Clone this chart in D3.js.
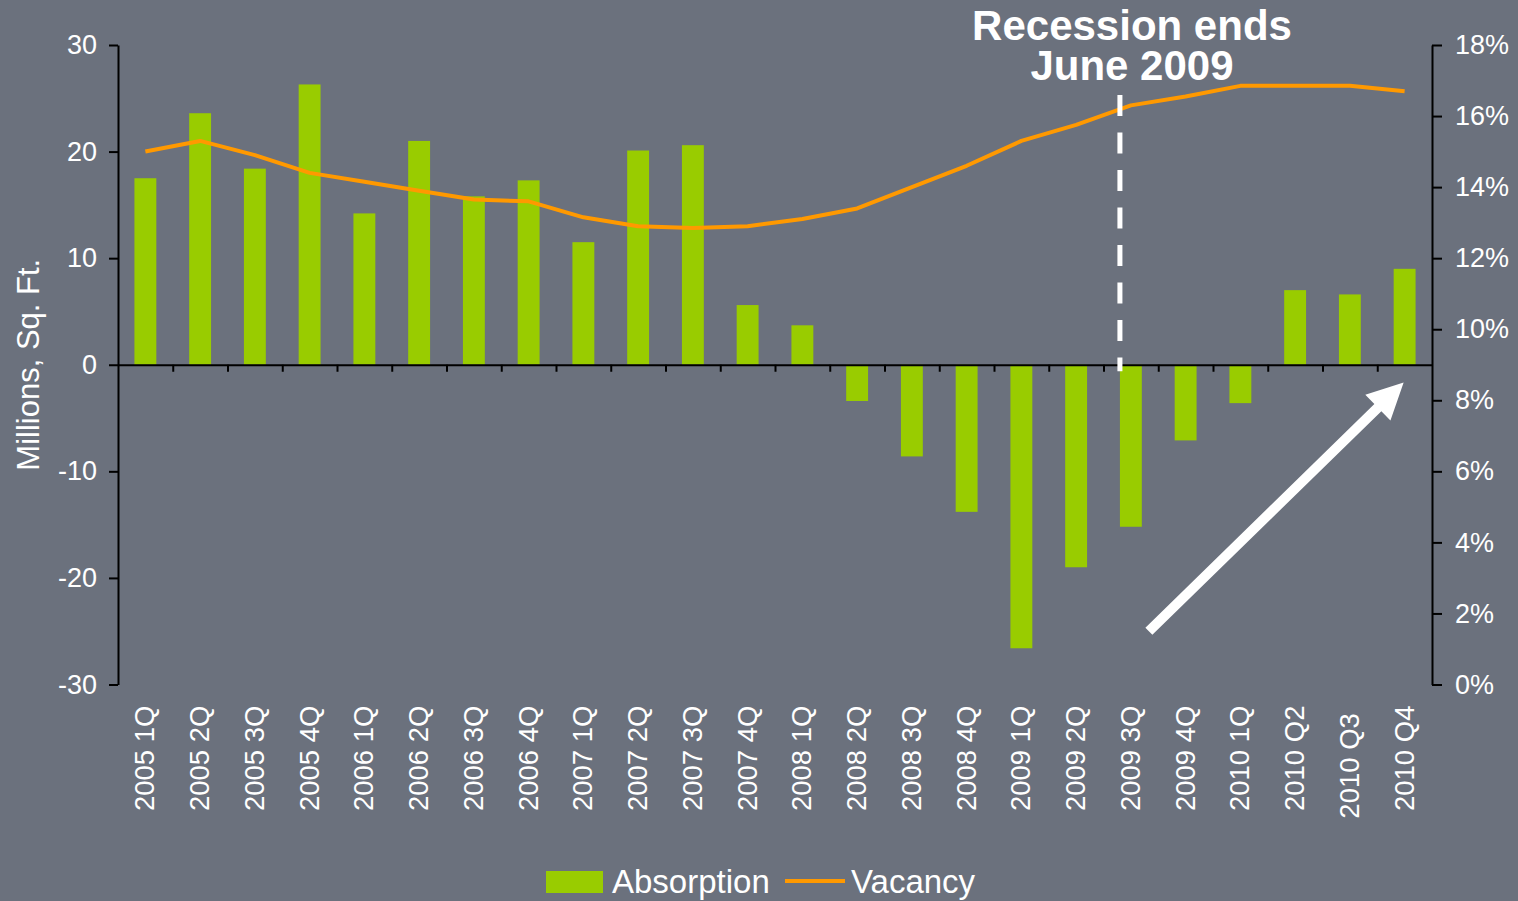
<!DOCTYPE html>
<html>
<head>
<meta charset="utf-8">
<script src="https://cdn.jsdelivr.net/npm/d3@7"></script>
<style>
  html, body { margin: 0; padding: 0; background: #6b717d; }
  svg { display: block; font-family: Arial, "Liberation Sans", sans-serif; }
  .axis path, .axis line { stroke: #000; stroke-width: 2; }
  .axis text { fill: #fff; font-size: 27px; }
</style>
</head>
<body>
<svg width="1518" height="901"></svg>
<script>
var svg = d3.select('svg'),
    width = +svg.attr('width'),
    height = +svg.attr('height');

var quarters = ['2005 1Q', '2005 2Q', '2005 3Q', '2005 4Q',
                '2006 1Q', '2006 2Q', '2006 3Q', '2006 4Q',
                '2007 1Q', '2007 2Q', '2007 3Q', '2007 4Q',
                '2008 1Q', '2008 2Q', '2008 3Q', '2008 4Q',
                '2009 1Q', '2009 2Q', '2009 3Q', '2009 4Q',
                '2010 1Q', '2010 Q2', '2010 Q3 ', '2010 Q4'];

// millions of sq. ft.
var absorption = [17.5, 23.6, 18.4, 26.3, 14.2, 21.0, 15.8, 17.3,
                  11.5, 20.1, 20.6, 5.6, 3.7, -3.4, -8.6, -13.8,
                  -26.6, -19.0, -15.2, -7.1, -3.6, 7.0, 6.6, 9.0];

// percent
var vacancy = [15.0, 15.3, 14.9, 14.4, 14.15, 13.9, 13.65, 13.6,
               13.15, 12.9, 12.85, 12.9, 13.1, 13.4, 14.0, 14.6,
               15.3, 15.75, 16.3, 16.55, 16.85, 16.85, 16.85, 16.7];

var leftTicks = [-30, -20, -10, 0, 10, 20, 30];
var rightTicks = [0, 2, 4, 6, 8, 10, 12, 14, 16, 18];

var plotL = 118, plotR = 1432, plotT = 45, plotB = 684.5;

var x = d3.scaleBand()
    .domain(quarters)
    .range([plotL, plotR])
    .paddingInner(0.6)
    .paddingOuter(0.3);

var step = x.step();

var yL = d3.scaleLinear().domain([-30, 30]).range([plotB, plotT]);
var yR = d3.scaleLinear().domain([0, 18]).range([plotB, plotT]);

// bars
svg.append('g')
    .selectAll('rect')
    .data(absorption)
    .enter().append('rect')
        .attr('x', (d, i) => x(quarters[i]))
        .attr('width', x.bandwidth())
        .attr('y', (d) => yL(Math.max(0, d)))
        .attr('height', (d) => Math.abs(yL(d) - yL(0)))
        .attr('fill', '#99cc00');

// vacancy line
var line = d3.line()
    .x((d, i) => x(quarters[i]) + x.bandwidth() / 2)
    .y((d) => yR(d));

svg.append('path')
    .datum(vacancy)
    .attr('d', line)
    .attr('fill', 'none')
    .attr('stroke', '#ff9900')
    .attr('stroke-width', 4)
    .attr('stroke-linejoin', 'round');

// left axis (plain hyphen for negatives, like the original)
svg.append('g')
    .attr('class', 'axis')
    .attr('transform', 'translate(' + plotL + ',0)')
    .call(d3.axisLeft(yL).tickValues(leftTicks).tickFormat((d) => String(d))
        .tickSize(9).tickPadding(12).tickSizeOuter(0));

// right axis
svg.append('g')
    .attr('class', 'axis')
    .attr('transform', 'translate(' + plotR + ',0)')
    .call(d3.axisRight(yR).tickValues(rightTicks).tickFormat((d) => d + '%')
        .tickSize(10).tickPadding(13).tickSizeOuter(0));

// zero line with ticks on category boundaries
var xb = d3.scaleLinear().domain([0, quarters.length]).range([plotL, plotR]);
svg.append('g')
    .attr('class', 'axis')
    .attr('transform', 'translate(0,' + yL(0) + ')')
    .call(d3.axisBottom(xb).tickValues(d3.range(1, quarters.length)).tickSize(7)
        .tickSizeOuter(0).tickFormat(''));

// category labels
svg.append('g')
    .selectAll('text')
    .data(quarters)
    .enter().append('text')
        .attr('transform', (d) => 'translate(' + (x(d) + x.bandwidth() / 2 + 9) + ',' + (plotB + 21) + ') rotate(-90)')
        .attr('text-anchor', 'end')
        .style('white-space', 'pre')
        .attr('fill', '#fff')
        .attr('font-size', 27.5)
        .text((d) => d);

// y title
svg.append('text')
    .attr('transform', 'translate(39,' + yL(0) + ') rotate(-90)')
    .attr('text-anchor', 'middle')
    .attr('fill', '#fff')
    .attr('font-size', 31)
    .text('Millions, Sq. Ft.');

// recession marker
var recX = x('2009 3Q') - (step - x.bandwidth()) / 2 + step * 0.3;
svg.append('line')
    .attr('x1', recX).attr('x2', recX)
    .attr('y1', yL(25.3)).attr('y2', yL(-0.6))
    .attr('stroke', '#fff')
    .attr('stroke-width', 5)
    .attr('stroke-dasharray', '21,16.5');

var note = svg.append('text')
    .attr('text-anchor', 'middle')
    .attr('fill', '#fff')
    .attr('font-size', 42)
    .attr('font-weight', 'bold');
note.append('tspan').attr('x', 1132).attr('y', 40).text('Recession ends');
note.append('tspan').attr('x', 1132).attr('y', 80).text('June 2009');

// recovery arrow
var ax0 = x('2009 3Q') + x.bandwidth() / 2 + 18, ay0 = yR(1.5),
    ax1 = x('2010 Q4') + x.bandwidth() / 2 - 1, ay1 = yR(8.5);
var ang = Math.atan2(ay1 - ay0, ax1 - ax0),
    len = Math.hypot(ax1 - ax0, ay1 - ay0),
    shaftW = 10, headW = 36, headL = 36;
var arrowPts = [
    [0, -shaftW / 2], [len - headL, -shaftW / 2], [len - headL, -headW / 2],
    [len, 0],
    [len - headL, headW / 2], [len - headL, shaftW / 2], [0, shaftW / 2]
];
svg.append('path')
    .attr('d', d3.line()(arrowPts) + 'Z')
    .attr('transform', 'translate(' + ax0 + ',' + ay0 + ') rotate(' + (ang * 180 / Math.PI) + ')')
    .attr('fill', '#fff');

// legend
var legend = svg.append('g').attr('font-size', 33).attr('fill', '#fff');
legend.append('rect')
    .attr('x', 546).attr('y', 871).attr('width', 57).attr('height', 22)
    .attr('fill', '#99cc00');
legend.append('text').attr('x', 612).attr('y', 893).text('Absorption');
legend.append('line')
    .attr('x1', 785).attr('x2', 845).attr('y1', 881).attr('y2', 881)
    .attr('stroke', '#ff9900').attr('stroke-width', 4);
legend.append('text').attr('x', 851).attr('y', 893).text('Vacancy');
</script>
</body>
</html>
